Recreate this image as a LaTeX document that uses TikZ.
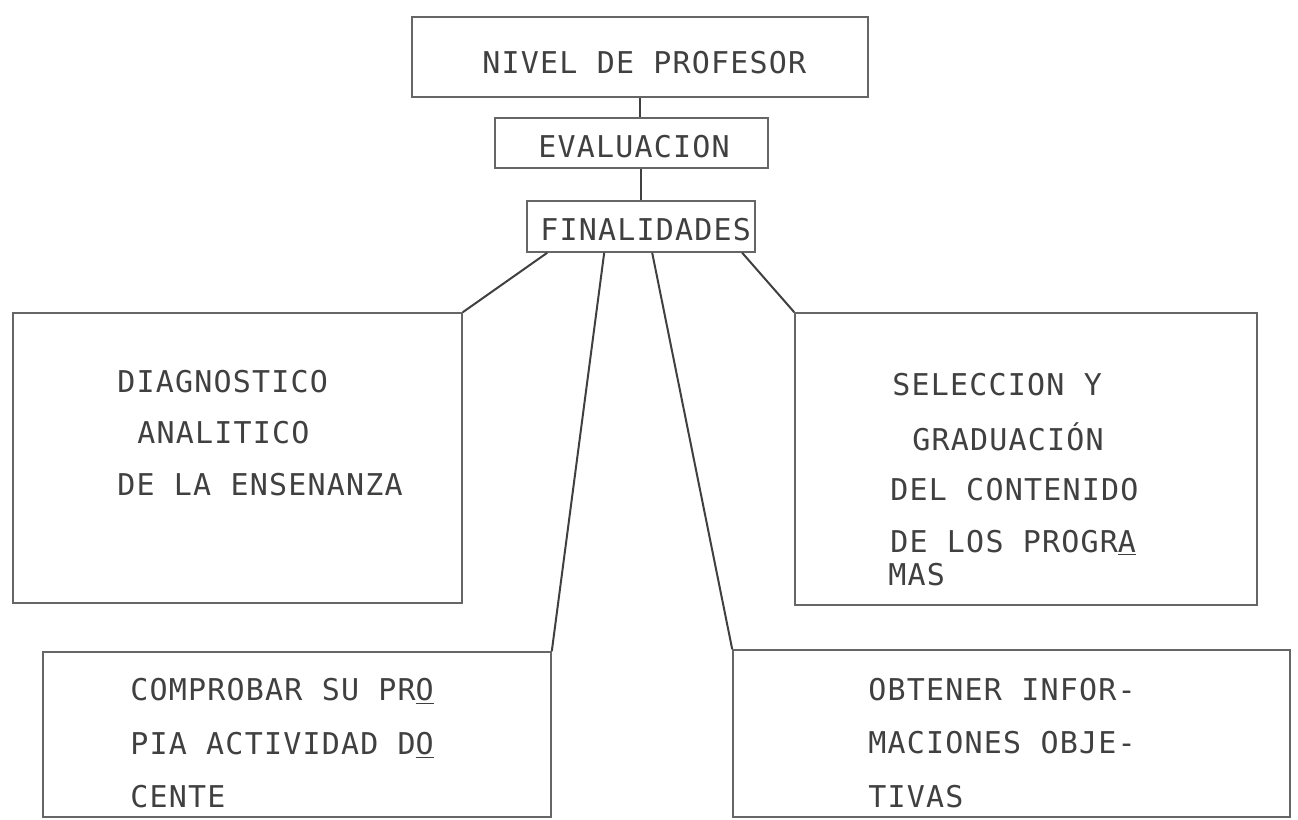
\documentclass[tikz,border=0pt]{standalone}
\usepackage{fontspec}
\newfontfamily\tw[LetterSpace=4]{DejaVu Sans Mono}
\usetikzlibrary{fit,calc}
\begin{document}
\begin{tikzpicture}[x=0.5pt,y=-0.5pt,
  box/.style={draw=black!60, line width=0.8pt, inner sep=0pt},
  conn/.style={draw=black!75, line width=1pt},
  txt/.style={anchor=base west, inner sep=0pt, font=\tw\fontsize{15}{18}\selectfont, text=black!75}]
\useasboundingbox (0,0) rectangle (1298,820);
% boxes
\node[box, fit={(412,17) (868,97)}] (nivel) {};
\node[box, fit={(495,118) (768,168)}] (eval) {};
\node[box, fit={(527,201) (755,252)}] (fin) {};
\node[box, fit={(13,313) (462,603)}] (diag) {};
\node[box, fit={(795,313) (1257,605)}] (sel) {};
\node[box, fit={(43,652) (551,817)}] (comp) {};
\node[box, fit={(733,650) (1290,817)}] (obt) {};
% texts
\node[txt] (t1) at (482,73) {NIVEL DE PROFESOR};
\node[txt] (t2) at (538,157) {EVALUACION};
\node[txt] (t3) at (540,240) {FINALIDADES};
\node[txt] (d1) at (117,392) {DIAGNOSTICO};
\node[txt] (d2) at (137,443) {ANALITICO};
\node[txt] (d3) at (117,495) {DE LA ENSENANZA};
\node[txt] (s1) at (892,395) {SELECCION Y};
\node[txt] (s2) at (912,450) {GRADUACIÓN};
\node[txt] (s3) at (890,500) {DEL CONTENIDO};
\node[txt] (s4) at (890,552) {DE LOS PROGR\underline{A}};
\node[txt] (s5) at (888,585) {MAS};
\node[txt] (c1) at (130,700) {COMPROBAR SU PR\underline{O}};
\node[txt] (c2) at (130,754) {PIA ACTIVIDAD D\underline{O}};
\node[txt] (c3) at (130,807) {CENTE};
\node[txt] (o1) at (868,700) {OBTENER INFOR-};
\node[txt] (o2) at (868,753) {MACIONES OBJE-};
\node[txt] (o3) at (868,807) {TIVAS};
% connectors
\draw[conn] (nivel.south) -- (nivel.south |- eval.north);
\draw[conn] (fin.north) -- (fin.north |- eval.south);
\draw[conn] ($(fin.south west)+(21,0)$) -- (diag.north east);
\draw[conn] ($(fin.south west)+(78,0)$) -- (comp.north east);
\draw[conn] ($(fin.south west)+(126,0)$) -- (obt.north west);
\draw[conn] ($(fin.south west)+(216,0)$) -- (sel.north west);
\end{tikzpicture}
\end{document}
